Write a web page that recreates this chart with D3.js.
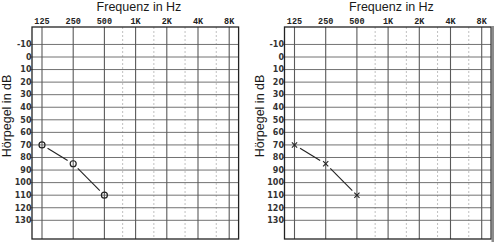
<!DOCTYPE html>
<html><head><meta charset="utf-8">
<script src="https://cdn.jsdelivr.net/npm/d3@7"></script>
<style>html,body{margin:0;padding:0;background:#fff;}svg{display:block;}</style>
</head><body>
<svg id="c" width="494" height="242"></svg>
<script>
const freqTicks = [125, 250, 500, 1000, 2000, 4000, 8000];
const freqLabels = ["125", "250", "500", "1K", "2K", "4K", "8K"];
const halfFreqs = [750, 1500, 3000, 6000];
const dbTicks = [-10, 0, 10, 20, 30, 40, 50, 60, 70, 80, 90, 100, 110, 120, 130];
const leftFreqs = [125, 250, 500];
const leftDb = [70, 85, 110];
const rightFreqs = [125, 250, 500];
const rightDb = [70, 85, 110];
const xTitle = "Frequenz in Hz";
const yTitle = "Hörpegel in dB";

const svg = d3.select("#c");

function panel(ox, freqs, dbs, marker) {
  const g = svg.append("g").attr("transform", `translate(${ox},0)`);
  const box = {l: 32, r: 238.6, t: 27, b: 239};
  const x = d3.scaleLog().base(2).domain([125, 8000]).range([42, 229.2]);
  const y = d3.scaleLinear().domain([0, 130]).range([57, 220.3]);

  g.selectAll(".hf").data(halfFreqs).join("line")
    .attr("x1", d => x(d)).attr("x2", d => x(d))
    .attr("y1", box.t).attr("y2", box.b)
    .attr("stroke", "#c0c0c0").attr("stroke-width", 1).attr("stroke-dasharray", "2,2");
  g.selectAll(".hg").data(dbTicks).join("line")
    .attr("x1", box.l - 2).attr("x2", box.r)
    .attr("y1", d => y(d)).attr("y2", d => y(d))
    .attr("stroke", "#727272").attr("stroke-width", 1);
  g.selectAll(".vg").data(freqTicks).join("line")
    .attr("x1", d => x(d)).attr("x2", d => x(d))
    .attr("y1", box.t).attr("y2", box.b)
    .attr("stroke", "#5a5a5a").attr("stroke-width", 1.1);
  g.append("rect").attr("x", box.l).attr("y", box.t)
    .attr("width", box.r - box.l).attr("height", box.b - box.t)
    .attr("fill", "none").attr("stroke", "#222").attr("stroke-width", 1.3);

  g.selectAll(".xl").data(freqTicks).join("text")
    .attr("x", d => x(d)).attr("y", 24)
    .attr("text-anchor", "middle")
    .attr("font-family", "'Liberation Mono', 'DejaVu Sans Mono', monospace")
    .attr("font-weight", "bold").attr("font-size", 8.5).attr("fill", "#222")
    .text((d, i) => freqLabels[i]);
  g.selectAll(".yl").data(dbTicks).join("text")
    .attr("x", box.l - 0.5).attr("y", d => y(d)).attr("dy", "0.35em")
    .attr("text-anchor", "end")
    .attr("font-family", "'DejaVu Sans', sans-serif")
    .attr("font-weight", "bold").attr("font-size", 8).attr("fill", "#333")
    .text(d => d);

  g.append("text").attr("x", 139).attr("y", 11).attr("text-anchor", "middle")
    .attr("font-family", "'Liberation Sans', Arial, sans-serif").attr("font-size", 12.5)
    .attr("fill", "#1a1a1a").text(xTitle);
  g.append("text").attr("transform", "translate(11,116) rotate(-90)")
    .attr("text-anchor", "middle")
    .attr("font-family", "'Liberation Sans', Arial, sans-serif").attr("font-size", 12.5)
    .attr("fill", "#1a1a1a").text(yTitle);

  const pts = freqs.map((f, i) => [x(f), y(dbs[i])]);
  const segs = d3.pairs(pts);
  const gap = 6.5;
  g.selectAll(".seg").data(segs).join("line")
    .each(function([a, b]) {
      const dx = b[0] - a[0], dy = b[1] - a[1], L = Math.hypot(dx, dy);
      const ux = dx / L, uy = dy / L;
      d3.select(this)
        .attr("x1", a[0] + ux * gap).attr("y1", a[1] + uy * gap)
        .attr("x2", b[0] - ux * gap).attr("y2", b[1] - uy * gap);
    })
    .attr("stroke", "#222").attr("stroke-width", 1.1);

  if (marker === "o") {
    g.selectAll(".m").data(pts).join("circle")
      .attr("cx", d => d[0]).attr("cy", d => d[1]).attr("r", 3)
      .attr("fill", "none").attr("stroke", "#222").attr("stroke-width", 1.2);
  } else {
    const s = 2.6;
    const mg = g.selectAll(".m").data(pts).join("g")
      .attr("transform", d => `translate(${d[0]},${d[1]})`);
    mg.append("line").attr("x1", -s).attr("y1", -s).attr("x2", s).attr("y2", s)
      .attr("stroke", "#222").attr("stroke-width", 1.1);
    mg.append("line").attr("x1", -s).attr("y1", s).attr("x2", s).attr("y2", -s)
      .attr("stroke", "#222").attr("stroke-width", 1.1);
  }
  return g;
}

panel(0, leftFreqs, leftDb, "o");
panel(252.5, rightFreqs, rightDb, "x");
svg.append("rect").attr("x", 491.5).attr("y", 26).attr("width", 2.5).attr("height", 216)
  .attr("fill", "#8c8c8c");
</script>
</body></html>
